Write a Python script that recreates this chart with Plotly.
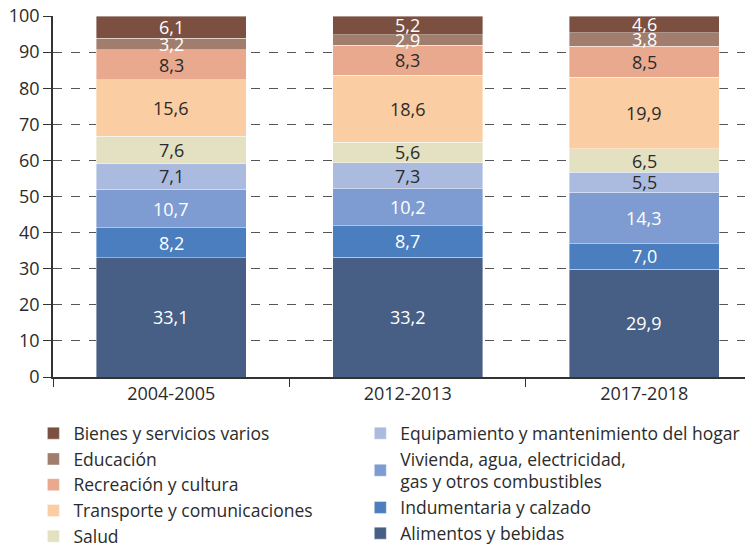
import plotly.graph_objects as go

periodos = ["2004-2005", "2012-2013", "2017-2018"]

# rubros de abajo hacia arriba (orden de apilado)
alimentos = [33.1, 33.2, 29.9]
indumentaria = [8.2, 8.7, 7.0]
vivienda = [10.7, 10.2, 14.3]
equipamiento = [7.1, 7.3, 5.5]
salud = [7.6, 5.6, 6.5]
transporte = [15.6, 18.6, 19.9]
recreacion = [8.3, 8.3, 8.5]
educacion = [3.2, 2.9, 3.8]
bienes = [6.1, 5.2, 4.6]

series = [
    ("Alimentos y bebidas", alimentos, "#475e85", "white", "legend"),
    ("Indumentaria y calzado", indumentaria, "#4a7ebf", "white", "legend"),
    ("Vivienda, agua, electricidad,<br>gas y otros combustibles", vivienda, "#7e9cd1", "white", "legend"),
    ("Equipamiento y mantenimiento del hogar", equipamiento, "#aabbdf", "#2b2b2b", "legend"),
    ("Salud", salud, "#e3e1c1", "#2b2b2b", "legend2"),
    ("Transporte y comunicaciones", transporte, "#fbcda2", "#2b2b2b", "legend2"),
    ("Recreación y cultura", recreacion, "#e9a98e", "#2b2b2b", "legend2"),
    ("Educación", educacion, "#a07d6c", "white", "legend2"),
    ("Bienes y servicios varios", bienes, "#7b5040", "white", "legend2"),
]

FONT = "Open Sans"

fig = go.Figure()
base = [0.0] * len(periodos)
for name, vals, color, txtcolor, leg in series:
    fig.add_trace(go.Bar(
        x=periodos, y=vals, name=name,
        marker=dict(color=color, line=dict(color="rgba(255,255,255,0.5)", width=0.8)),
        legend=leg,
    ))
    for i, v in enumerate(vals):
        fig.add_annotation(
            x=periodos[i], y=base[i] + v / 2,
            text=f"{v:.1f}".replace(".", ","),
            showarrow=False,
            font=dict(family=FONT, size=18, color=txtcolor),
        )
        base[i] += v

# la página html agrega 8px de margen al cuerpo
fig.update_layout(
    barmode="stack",
    bargap=0.366,
    width=745, height=540,
    margin=dict(l=45, r=0, t=8, b=171, autoexpand=False),
    plot_bgcolor="white",
    paper_bgcolor="white",
    font=dict(family=FONT, size=17, color="#2b2b2b"),
    xaxis=dict(
        type="category", range=[-0.5, 2.46],
        showline=True, linecolor="#333", linewidth=1.5,
        ticks="outside", tickson="boundaries", ticklen=8, tickcolor="#333",
        showgrid=False, tickfont=dict(size=18),
    ),
    yaxis=dict(
        range=[0, 100], dtick=10,
        showline=True, linecolor="#333", linewidth=1.5,
        ticks="outside", ticklen=8, tickcolor="#333",
        showgrid=True, gridcolor="#555", griddash="dash", gridwidth=1,
        zeroline=False, tickfont=dict(size=18), ticklabeloverflow="allow",
    ),
    legend=dict(
        x=0.439, y=-0.106, xanchor="left", yanchor="top",
        traceorder="reversed", font=dict(size=17.5), bgcolor="rgba(0,0,0,0)",
    ),
    legend2=dict(
        x=-0.028, y=-0.106, xanchor="left", yanchor="top",
        traceorder="reversed", font=dict(size=17.5), bgcolor="rgba(0,0,0,0)",
    ),
)

fig.write_html("out.html")
